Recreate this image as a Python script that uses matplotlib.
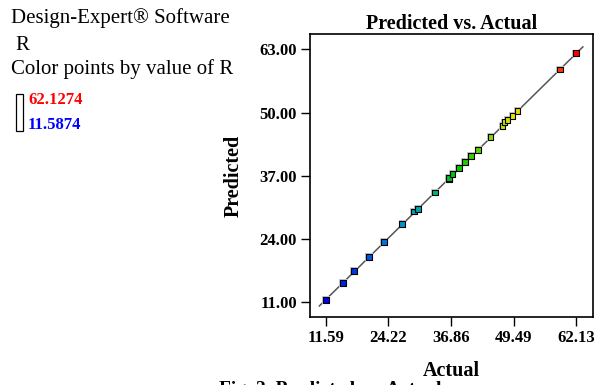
import matplotlib
matplotlib.use("Agg")
import matplotlib.pyplot as plt
from matplotlib.colors import LinearSegmentedColormap, Normalize
from matplotlib.patches import Rectangle

plt.rcParams['font.family'] = ['Liberation Serif', 'DejaVu Serif']

actual = [11.59, 15.03, 17.25, 20.28, 23.25, 27.02, 29.38, 30.12, 33.56, 36.39, 36.5,
          37.13, 38.41, 39.62, 40.9, 42.38, 44.81, 47.24, 47.64, 48.25, 49.26, 50.27,
          58.83, 62.13]
predicted = [11.45, 14.96, 17.5, 20.25, 23.34, 27.12, 29.67, 30.15, 33.58, 36.26, 36.55,
             37.43, 38.6, 39.84, 41.08, 42.38, 44.92, 47.19, 48.0, 48.5, 49.25, 50.29,
             58.88, 62.18]
x_ticks = [11.59, 24.22, 36.86, 49.49, 62.13]
x_ticklabels = ["11.59", "24.22", "36.86", "49.49", "62.13"]
y_ticks = [11, 24, 37, 50, 63]
y_ticklabels = ["11.00", "24.00", "37.00", "50.00", "63.00"]
r_min, r_max = 11.5874, 62.1274
line_ends = [10.24, 63.5]

cmap = LinearSegmentedColormap.from_list(
    "de", [(0.0, (0.0, 0.0, 0.95)), (0.28, (0.0, 0.55, 0.85)), (0.42, (0.0, 0.7, 0.55)),
           (0.52, (0.0, 0.78, 0.0)), (0.75, (0.9, 0.9, 0.0)), (1.0, (1.0, 0.0, 0.0))])
norm = Normalize(r_min, r_max)

fig = plt.figure(figsize=(6, 3.85), dpi=100)
ax = fig.add_axes([0.5167, 0.1766, 0.4717, 0.735])

ax.plot(line_ends, line_ends, color='#555555', lw=1.1, zorder=2)
ax.scatter(actual, predicted, marker='s', s=30, c='#c8c8c8', edgecolors='none', zorder=3)
ax.scatter(actual, predicted, marker='s', s=17, c=[cmap(norm(v)) for v in actual],
           edgecolors='black', linewidths=0.8, zorder=4)

ax.set_xlim(8.36, 65.56)
ax.set_ylim(7.97, 66.15)
ax.set_xticks(x_ticks)
ax.set_xticklabels(x_ticklabels)
ax.set_yticks(y_ticks)
ax.set_yticklabels(y_ticklabels)
ax.tick_params(direction='out', length=6.5, width=1, pad=3, labelsize=12,
               top=False, right=False)
for lab in ax.get_xticklabels() + ax.get_yticklabels():
    lab.set_fontweight('bold')
for sp in ax.spines.values():
    sp.set_linewidth(1.2)

ax.set_title("Predicted vs. Actual", fontsize=14.5, fontweight='bold', pad=3)
ax.set_xlabel("Actual", fontsize=14.5, fontweight='bold', labelpad=11)
ax.set_ylabel("Predicted", fontsize=14.5, fontweight='bold', labelpad=11)

def fx(px):
    return px / 600.0

def fy(py):
    return 1 - py / 385.0

fig.text(fx(11), fy(18), "Design-Expert\u00ae Software", fontsize=15, va='center', ha='left')
fig.text(fx(15), fy(46), "R", fontsize=15, va='center', ha='left')
fig.text(fx(11), fy(69), "Color points by value of R", fontsize=15, va='center', ha='left')
fig.patches.append(Rectangle((fx(16), fy(131)), fx(7), 37 / 385.0, transform=fig.transFigure,
                             fill=False, edgecolor='black', lw=0.9))
fig.text(fx(28), fy(100), "62.1274", fontsize=12, fontweight='bold', color='#ff0000', va='center', ha='left')
fig.text(fx(28), fy(125), "11.5874", fontsize=12, fontweight='bold', color='#0000ff', va='center', ha='left')
fig.text(fx(330), fy(381.5), "Fig. 2. Predicted vs. Actual", fontsize=14, fontweight='bold',
         va='top', ha='center')

fig.savefig("out.png", dpi=100)
